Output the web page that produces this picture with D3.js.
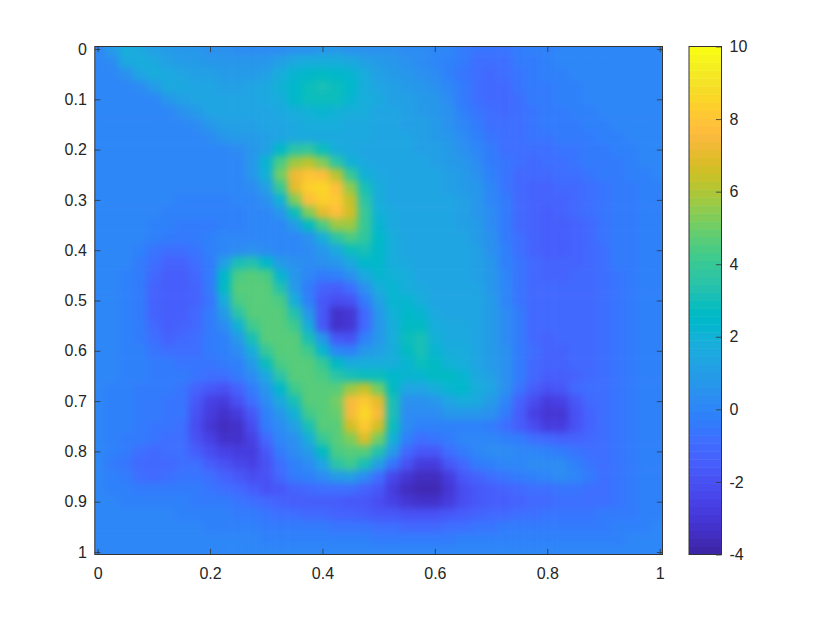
<!DOCTYPE html>
<html><head><meta charset="utf-8">
<script src="https://cdn.jsdelivr.net/npm/d3@7"></script>
<style>html,body{margin:0;padding:0;background:#fff}svg{display:block}text{font-family:"Liberation Sans",Arial,sans-serif;font-size:16px;fill:#262626}</style>
</head><body><div id="chart"></div>
<script>
const xTickValues=[0,0.2,0.4,0.6,0.8,1];
const yTickValues=[0,0.1,0.2,0.3,0.4,0.5,0.6,0.7,0.8,0.9,1];
const colorbarTicks=[-4,-2,0,2,4,6,8,10];
const colorDomain=[-4,10];
const gridStep=0.025;
const parulaStops=[[.2422,.1504,.6603],[.2504,.165,.7076],[.2578,.1818,.7511],[.2647,.1978,.7952],[.2706,.2147,.8364],[.2751,.2342,.871],[.2783,.2559,.8991],[.2803,.2782,.9221],[.2813,.3006,.9414],[.281,.3228,.9579],[.2795,.3447,.9717],[.276,.3667,.9829],[.2699,.3892,.9906],[.2602,.4123,.9952],[.244,.4358,.9988],[.2206,.4603,.9973],[.1963,.4847,.9892],[.1834,.5074,.9798],[.1786,.5289,.9682],[.1764,.5499,.952],[.1687,.5703,.9359],[.154,.5902,.9218],[.146,.6091,.9079],[.138,.6276,.8973],[.1248,.6459,.8883],[.1113,.6635,.8763],[.0952,.6798,.8598],[.0689,.6948,.8394],[.0297,.7082,.8163],[.0036,.7203,.7917],[.0067,.7312,.766],[.0433,.7411,.7394],[.0964,.75,.712],[.1408,.7584,.6842],[.1717,.767,.6554],[.1938,.7758,.6251],[.2161,.7843,.5923],[.247,.7918,.5567],[.2906,.7973,.5188],[.3406,.8008,.4789],[.3909,.8029,.4354],[.4456,.8024,.3909],[.5044,.7993,.348],[.5616,.7942,.3045],[.6174,.7876,.2612],[.672,.7793,.2227],[.7242,.7698,.191],[.7738,.7598,.1646],[.8203,.7498,.1535],[.8634,.7406,.1596],[.9035,.733,.1774],[.9393,.7288,.21],[.9728,.7298,.2394],[.9956,.7434,.2371],[.997,.7659,.2199],[.9952,.7861,.199],[.9892,.8134,.1759],[.9786,.8421,.1541],[.9676,.8639,.1516],[.961,.889,.1537],[.9597,.9135,.1423],[.9628,.9373,.1265],[.9691,.9606,.1064],[.9769,.9839,.0805]];
const fieldValues=[
[0,1.0,1.8,1.5,1.1,.9,.7,.6,.5,.4,.3,.3,.2,.3,.4,.5,.6,.6,.5,.5,.4,.4,.3,.2,.1,0,-.3,-.6,-.7,-.6,-.4,-.2,-.1,0,0,0,0,0,0,0,0],
[0,.3,1.6,1.8,1.5,1.2,1.0,.9,.8,.7,.7,.7,.8,1.2,1.5,1.8,1.9,1.8,1.6,1.2,.9,.7,.5,.3,.1,-.2,-.5,-.8,-.9,-.8,-.5,-.3,-.1,0,0,0,0,0,0,0,0],
[0,0,.4,1.3,1.7,1.6,1.4,1.2,1.1,1.0,1.0,1.0,1.2,1.7,2.2,2.5,2.6,2.5,2.2,1.7,1.2,.9,.7,.5,.2,-.2,-.6,-.9,-1.0,-.9,-.6,-.3,-.2,-.1,0,0,0,0,0,0,0],
[0,0,0,.3,1.0,1.5,1.5,1.4,1.3,1.2,1.2,1.3,1.5,2.0,2.5,2.9,3.0,2.9,2.4,1.9,1.4,1.1,.9,.7,.4,0,-.5,-.9,-1.0,-1.0,-.7,-.4,-.3,-.2,-.1,0,0,0,0,0,0],
[0,0,0,0,.1,.6,1.2,1.4,1.4,1.3,1.3,1.3,1.5,1.9,2.4,2.8,2.9,2.8,2.3,1.9,1.5,1.2,1.1,.9,.6,.2,-.3,-.8,-1.0,-1.0,-.8,-.5,-.4,-.2,-.1,0,0,0,0,0,0],
[0,0,0,0,0,0,.4,1.0,1.3,1.3,1.3,1.3,1.4,1.6,1.9,2.1,2.2,2.1,1.9,1.7,1.4,1.3,1.2,1.0,.8,.4,-.1,-.6,-.9,-1.0,-.8,-.6,-.4,-.3,-.2,-.1,0,0,0,0,0],
[0,0,0,0,0,0,0,.3,.8,1.1,1.2,1.2,1.3,1.4,1.6,1.7,1.7,1.7,1.6,1.5,1.4,1.3,1.2,1.1,.9,.5,.1,-.4,-.8,-.9,-.8,-.6,-.5,-.4,-.3,-.2,-.1,0,0,0,0],
[0,0,0,0,0,0,0,0,.2,.6,.9,1.0,1.2,1.4,1.5,1.6,1.6,1.6,1.5,1.5,1.4,1.3,1.3,1.2,1.0,.7,.3,-.2,-.7,-.9,-.9,-.7,-.6,-.5,-.4,-.3,-.2,-.1,0,0,0],
[0,0,0,0,0,0,0,0,0,.1,.3,.6,1.2,2.4,3.5,3.7,2.8,1.9,1.5,1.4,1.4,1.3,1.3,1.2,1.1,.9,.5,0,-.5,-.8,-.9,-.8,-.8,-.7,-.6,-.4,-.3,-.2,-.1,0,0],
[0,0,0,0,0,0,0,0,0,0,.1,.6,2.2,4.4,5.8,6.1,5.2,3.5,2.1,1.5,1.4,1.3,1.3,1.3,1.2,1.0,.7,.2,-.3,-.7,-.9,-1.0,-.9,-.8,-.7,-.5,-.4,-.3,-.1,0,0],
[0,0,0,0,0,0,0,0,0,0,0,.6,2.0,5.0,7.2,8.0,7.7,6.2,4.0,2.1,1.5,1.3,1.3,1.3,1.3,1.1,.9,.4,-.2,-.7,-1.0,-1.1,-1.0,-.9,-.8,-.6,-.5,-.3,-.2,-.1,0],
[0,0,0,0,0,0,0,0,0,0,0,.3,1.1,4.0,7.0,8.3,8.5,7.8,5.6,3.0,1.7,1.3,1.3,1.3,1.3,1.2,1.0,.6,0,-.6,-1.0,-1.2,-1.2,-1.1,-1.0,-.8,-.7,-.5,-.3,-.2,-.1],
[0,0,0,0,0,0,-.1,-.1,-.1,-.1,0,0,.4,2.1,5.3,7.8,8.4,8.1,6.4,3.6,1.9,1.4,1.3,1.3,1.3,1.3,1.1,.7,.1,-.5,-1.0,-1.2,-1.3,-1.2,-1.1,-.9,-.7,-.5,-.3,-.2,-.1],
[0,0,0,0,0,-.1,-.2,-.2,-.2,-.2,-.1,0,0,.7,2.9,5.4,7.0,7.6,6.6,4.0,2.1,1.5,1.3,1.3,1.3,1.3,1.2,.8,.2,-.5,-1.0,-1.3,-1.4,-1.3,-1.1,-.9,-.7,-.5,-.3,-.2,-.1],
[0,0,0,0,-.1,-.2,-.3,-.3,-.3,-.2,-.1,0,0,.1,.9,2.7,4.5,5.8,5.7,4.0,2.3,1.6,1.4,1.3,1.3,1.3,1.2,.9,.3,-.4,-1.0,-1.3,-1.4,-1.4,-1.2,-1.0,-.7,-.5,-.3,-.2,-.1],
[0,0,0,0,-.2,-.5,-.5,-.3,-.1,0,0,0,0,0,.1,.5,1.9,3.6,4.5,3.8,2.4,1.7,1.4,1.3,1.3,1.3,1.3,1.0,.4,-.3,-.9,-1.3,-1.5,-1.5,-1.3,-1.0,-.7,-.5,-.3,-.2,-.1],
[0,0,0,-.1,-.6,-.9,-.9,-.6,-.2,0,.3,.4,.2,.1,0,.2,.7,1.6,2.9,3.1,2.4,1.7,1.4,1.3,1.3,1.3,1.3,1.1,.5,-.2,-.8,-1.2,-1.4,-1.4,-1.3,-1.0,-.8,-.5,-.3,-.2,-.1],
[0,0,0,-.3,-.9,-1.2,-1.2,-.9,-.3,1.2,3.0,3.4,2.4,1.0,.4,.3,.5,.8,1.5,2.5,2.4,1.8,1.5,1.3,1.3,1.3,1.3,1.2,.6,-.1,-.7,-1.1,-1.3,-1.3,-1.2,-1.0,-.8,-.5,-.3,-.2,-.1],
[0,0,-.1,-.4,-1.1,-1.4,-1.4,-1.1,-.4,2.4,4.5,4.65,4.5,2.2,.6,0,-.3,-.2,.4,1.6,2.3,2.1,1.7,1.4,1.3,1.3,1.3,1.2,.7,0,-.6,-1.0,-1.2,-1.2,-1.1,-1.0,-.8,-.6,-.4,-.2,-.1],
[0,0,-.1,-.5,-1.2,-1.5,-1.5,-1.2,-.5,2.6,4.65,4.65,4.65,3.4,1.0,-.3,-1.2,-1.5,-.8,.5,1.9,2.2,1.9,1.5,1.3,1.3,1.3,1.3,.8,.1,-.6,-1.0,-1.1,-1.1,-1.1,-1.0,-.8,-.6,-.4,-.2,-.1],
[0,0,-.1,-.5,-1.2,-1.5,-1.5,-1.2,-.6,1.8,4.5,4.65,4.65,4.5,1.9,-.1,-1.8,-2.2,-1.9,-.3,1.1,2.2,2.3,1.8,1.4,1.3,1.3,1.3,.9,.1,-.6,-1.0,-1.1,-1.1,-1.1,-1.0,-.8,-.6,-.4,-.2,-.1],
[0,0,-.1,-.5,-1.2,-1.5,-1.4,-1.1,-.5,.9,3.6,4.65,4.65,4.65,3.4,.6,-1.6,-3.3,-3.0,-1.0,.7,2.0,2.5,2.2,1.5,1.4,1.4,1.3,.9,.2,-.5,-1.0,-1.1,-1.1,-1.1,-1.0,-.8,-.6,-.4,-.2,-.1],
[0,0,-.1,-.4,-1.1,-1.4,-1.3,-1.0,-.5,.3,2.0,4.3,4.65,4.65,4.3,1.7,-1.7,-3.3,-3.1,-1.1,.6,1.9,2.7,2.6,1.7,1.5,1.5,1.4,1.0,.3,-.5,-1.0,-1.1,-1.1,-1.1,-1.0,-.8,-.6,-.4,-.2,-.1],
[0,0,-.1,-.3,-.9,-1.2,-1.1,-.9,-.5,-.1,.9,3.2,4.65,4.65,4.65,3.2,.8,-1.8,-1.9,-.2,.8,1.9,2.8,3.0,2.0,1.6,1.6,1.4,1.0,.3,-.5,-1.0,-1.2,-1.1,-1.1,-1.0,-.8,-.6,-.4,-.2,-.1],
[0,0,-.1,-.2,-.7,-.9,-.9,-.8,-.5,-.2,.3,1.9,4.0,4.65,4.65,4.3,2.3,.1,-.1,.7,1.2,1.9,2.6,3.1,2.3,1.8,1.7,1.4,1.0,.4,-.4,-.9,-1.2,-1.2,-1.1,-1.0,-.8,-.6,-.4,-.2,-.1],
[0,0,-.1,-.2,-.4,-.5,-.6,-.6,-.6,-.4,-.1,.9,2.9,4.5,4.65,4.65,3.9,2.6,1.8,1.7,1.7,1.9,2.3,2.8,2.6,2.0,1.7,1.4,1.0,.4,-.4,-1.0,-1.3,-1.3,-1.1,-1.0,-.8,-.6,-.4,-.2,-.1],
[0,0,-.1,-.2,-.3,-.4,-.5,-.7,-.9,-.9,-.5,.3,1.6,3.6,4.65,4.65,4.5,3.6,3.0,2.9,2.9,2.4,2.2,2.3,2.6,2.6,2.2,1.6,1.2,.5,-.4,-1.0,-1.5,-1.5,-1.2,-1.0,-.8,-.6,-.4,-.2,-.1],
[0,-.1,-.2,-.3,-.4,-.5,-.6,-1.2,-1.8,-1.9,-1.2,-.3,.8,2.4,4.3,4.65,4.65,4.65,5.8,6.3,5.0,2.6,1.3,1.3,1.7,2.2,2.5,1.9,1.3,.4,-.7,-1.4,-1.9,-1.7,-1.0,-.9,-.8,-.6,-.4,-.2,-.1],
[0,-.1,-.2,-.3,-.5,-.6,-.7,-1.6,-2.5,-2.8,-2.0,-.8,.2,1.5,3.2,4.65,4.65,5.0,7.4,8.2,7.0,3.0,.4,.5,.8,1.3,1.7,1.6,1.0,.1,-1.2,-2.2,-2.8,-2.6,-1.6,-1.0,-.8,-.6,-.4,-.2,-.1],
[0,-.1,-.2,-.3,-.5,-.6,-.7,-1.9,-2.9,-3.3,-2.8,-1.6,-.1,.6,2.0,4.2,4.65,4.8,7.5,8.5,7.5,3.0,.3,.3,.3,.6,.8,.8,.4,-.3,-1.4,-2.5,-3.1,-3.0,-2.0,-1.2,-.9,-.6,-.4,-.2,-.1],
[0,-.1,-.2,-.4,-.6,-.7,-.8,-2.1,-3.0,-3.4,-3.2,-2.2,-.5,.2,1.2,3.0,4.6,4.65,6.6,8.1,6.6,2.9,.2,-.1,-.1,-.1,-.1,-.2,-.5,-.9,-1.5,-2.2,-2.9,-2.8,-1.9,-1.2,-.9,-.6,-.4,-.2,-.1],
[0,-.1,-.3,-.5,-.7,-.8,-.8,-1.9,-2.6,-3.2,-3.2,-2.6,-1.0,0,.5,1.7,3.9,4.65,5.2,6.8,5.0,2.1,-.2,-.9,-.7,-.3,0,.1,0,-.2,-.5,-.8,-1.0,-1.2,-1.2,-1.1,-.8,-.6,-.4,-.2,-.1],
[0,-.2,-.4,-.9,-1.0,-.9,-.9,-1.4,-2.1,-2.6,-2.9,-2.7,-1.7,-.4,.2,.9,2.6,4.5,4.65,4.65,3.4,.9,-1.0,-1.8,-1.6,-.9,-.3,.1,.2,.2,.1,0,-.1,-.3,-.6,-.9,-.8,-.6,-.4,-.2,-.1],
[0,-.3,-.7,-1.0,-1.1,-1.0,-.8,-.9,-1.5,-1.9,-2.4,-2.5,-1.9,-.8,-.1,.3,1.4,3.5,4.3,3.0,1.1,-.6,-2.0,-2.9,-2.8,-1.8,-1.1,-.5,-.2,0,.1,.2,.3,.2,-.1,-.6,-.8,-.6,-.4,-.2,-.1],
[0,-.2,-.5,-.9,-1.0,-.8,-.6,-.7,-.8,-1.2,-1.8,-2.1,-2.0,-1.1,-.5,-.1,.2,.9,1.2,.2,-.8,-2.3,-3.1,-3.5,-3.4,-2.8,-1.8,-1.2,-.8,-.6,-.4,-.2,0,.2,.1,-.5,-.8,-.6,-.4,-.2,-.1],
[0,-.1,-.2,-.4,-.5,-.4,-.4,-.5,-.6,-.8,-1.1,-1.4,-1.9,-1.7,-1.2,-1.0,-.9,-.8,-.8,-1.2,-1.8,-2.9,-3.5,-3.7,-3.6,-3.1,-2.2,-1.7,-1.4,-1.2,-1.0,-.9,-.8,-.7,-.7,-.8,-.8,-.6,-.4,-.2,-.1],
[0,0,-.1,-.2,-.2,-.2,-.2,-.3,-.4,-.5,-.7,-.9,-1.1,-1.3,-1.4,-1.5,-1.5,-1.5,-1.6,-1.8,-2.1,-2.6,-3.1,-3.3,-3.2,-2.8,-2.1,-1.8,-1.5,-1.4,-1.2,-1.1,-1.0,-.9,-.9,-.9,-.8,-.6,-.4,-.2,-.1],
[0,0,0,0,0,0,-.1,-.1,-.2,-.2,-.3,-.5,-.7,-.8,-.9,-1.0,-1.1,-1.2,-1.3,-1.4,-1.6,-1.8,-1.9,-2.0,-1.9,-1.7,-1.5,-1.3,-1.1,-1.0,-.9,-.8,-.7,-.6,-.6,-.6,-.5,-.4,-.3,-.2,-.1],
[0,0,0,0,0,0,0,0,-.1,-.1,-.2,-.2,-.3,-.3,-.4,-.4,-.5,-.6,-.7,-.7,-.8,-.9,-1.0,-1.0,-1.0,-.9,-.8,-.7,-.6,-.5,-.5,-.4,-.4,-.4,-.3,-.3,-.3,-.2,-.2,-.1,0],
[0,0,0,0,0,0,0,0,0,0,0,0,-.1,-.1,-.1,-.1,-.2,-.2,-.2,-.2,-.3,-.3,-.3,-.3,-.3,-.3,-.2,-.2,-.2,-.2,-.1,-.1,-.1,-.1,-.1,-.1,-.1,-.1,0,0,0],
[0,0,0,0,0,0,0,0,0,0,0,0,0,0,0,0,0,0,0,0,0,0,0,0,0,0,0,0,0,0,0,0,0,0,0,0,0,0,0,0,0]
];

const W=830,H=623;
const box={l:94.8,r:662.5,t:46.5,b:554.5};
const cb={l:689,r:721.5,t:46.5,b:554.5};
const x=d3.scaleLinear().domain([-0.005,1.005]).range([box.l,box.r]);
const y=d3.scaleLinear().domain([-0.005,1.005]).range([box.t,box.b]);
const cy=d3.scaleLinear().domain(colorDomain).range([cb.b,cb.t]);
const toRgb=c=>d3.rgb(c[0]*255,c[1]*255,c[2]*255);
const level=d3.scaleQuantize().domain(colorDomain).range(parulaStops.map(toRgb));

const svg=d3.select("#chart").append("svg").attr("width",W).attr("height",H).attr("viewBox",`0 0 ${W} ${H}`);
const defs=svg.append("defs");
defs.append("clipPath").attr("id","plotClip").append("rect").attr("x",box.l).attr("y",box.t).attr("width",box.r-box.l).attr("height",box.b-box.t);
const blur=defs.append("filter").attr("id","soft").attr("filterUnits","userSpaceOnUse").attr("x",box.l-40).attr("y",box.t-40).attr("width",box.r-box.l+80).attr("height",box.b-box.t+80).attr("color-interpolation-filters","sRGB");
blur.append("feGaussianBlur").attr("stdDeviation",3.6);

const bleed=30;
const cells=fieldValues.flatMap((row,j)=>row.map((v,i)=>({i,j,v})));
const nx=fieldValues[0].length-1,ny=fieldValues.length-1;
const edge=(s,k,n)=>[k===0?s(0)-bleed:s((k-0.5)*gridStep),k===n?s(1)+bleed:s((k+0.5)*gridStep)];
svg.append("g").attr("clip-path","url(#plotClip)").append("g").attr("filter","url(#soft)")
 .selectAll("rect").data(cells).join("rect")
 .attr("x",d=>edge(x,d.i,nx)[0]).attr("width",d=>{const e=edge(x,d.i,nx);return e[1]-e[0]+0.6})
 .attr("y",d=>edge(y,d.j,ny)[0]).attr("height",d=>{const e=edge(y,d.j,ny);return e[1]-e[0]+0.6})
 .attr("fill",d=>level(d.v));

const line="#333";
svg.append("rect").attr("x",box.l).attr("y",box.t).attr("width",box.r-box.l).attr("height",box.b-box.t).attr("fill","none").attr("stroke",line).attr("stroke-width",1);

const tl=5.6;
const styleAxis=g=>{g.select(".domain").remove();g.selectAll(".tick line").attr("stroke",line).attr("stroke-width",0.8);g.selectAll(".tick text").attr("fill","#262626").style("font-size","16px").style("font-family",'"Liberation Sans",Arial,sans-serif')};
const plain=d=>String(d);
svg.append("g").attr("transform",`translate(0,${box.b})`).call(d3.axisBottom(x).tickValues(xTickValues).tickFormat(plain).tickSize(-tl).tickPadding(13)).call(styleAxis);
svg.append("g").attr("transform",`translate(0,${box.t})`).call(d3.axisTop(x).tickValues(xTickValues).tickFormat("").tickSize(-tl)).call(styleAxis);
svg.append("g").attr("transform",`translate(${box.l},0)`).call(d3.axisLeft(y).tickValues(yTickValues).tickFormat(plain).tickSize(-tl).tickPadding(8)).call(styleAxis);
svg.append("g").attr("transform",`translate(${box.r},0)`).call(d3.axisRight(y).tickValues(yTickValues).tickFormat("").tickSize(-tl)).call(styleAxis);

const nLevels=parulaStops.length;
svg.append("g").selectAll("rect").data(parulaStops).join("rect")
 .attr("x",cb.l).attr("width",cb.r-cb.l)
 .attr("y",(d,i)=>cb.b-(i+1)*(cb.b-cb.t)/nLevels).attr("height",(cb.b-cb.t)/nLevels+0.5)
 .attr("fill",d=>toRgb(d));
svg.append("rect").attr("x",cb.l).attr("y",cb.t).attr("width",cb.r-cb.l).attr("height",cb.b-cb.t).attr("fill","none").attr("stroke",line);
svg.append("g").attr("transform",`translate(${cb.r},0)`).call(d3.axisRight(cy).tickValues(colorbarTicks).tickFormat(plain).tickSize(-tl).tickPadding(8)).call(styleAxis);
</script></body></html>
